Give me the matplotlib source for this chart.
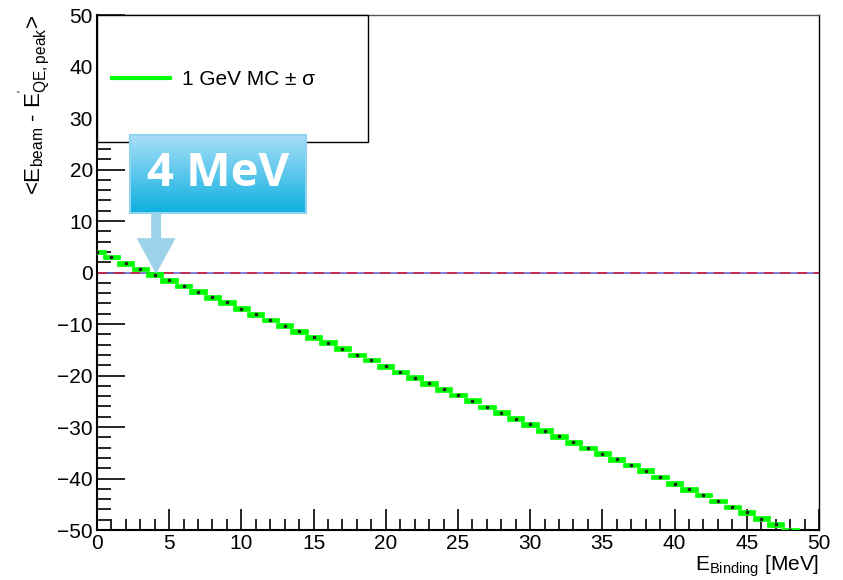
import numpy as np
import matplotlib.pyplot as plt
from matplotlib.patches import Rectangle
from matplotlib.lines import Line2D
from matplotlib.ticker import MultipleLocator

plt.rcParams['font.family'] = ['Liberation Sans', 'DejaVu Sans']
plt.rcParams['mathtext.fontset'] = 'custom'
plt.rcParams['mathtext.rm'] = 'Liberation Sans'
plt.rcParams['mathtext.it'] = 'Liberation Sans:italic'

# binding energy (MeV) and mean peak shift
e_binding = np.arange(0, 49)
shift = [4.0, 3.0, 1.8, 0.7, -0.4, -1.5, -2.6, -3.7, -4.8, -5.8,
         -7.0, -8.1, -9.2, -10.3, -11.4, -12.6, -13.6, -14.8, -16.0, -17.0,
         -18.2, -19.3, -20.4, -21.5, -22.7, -23.8, -24.9, -26.1, -27.2, -28.4,
         -29.5, -30.7, -31.8, -33.0, -34.1, -35.2, -36.3, -37.4, -38.5, -39.7,
         -41.0, -42.1, -43.2, -44.4, -45.5, -46.6, -47.8, -48.9, -50.0]
sigma = 0.45
legend_label = '1 GeV MC ± σ'
callout_text = '4 MeV'
callout_x = 4.1

fig = plt.figure(figsize=(8.43, 5.8), dpi=100)
ax = fig.add_axes([0.115, 0.0862, 0.8565, 0.8879])

shift = np.array(shift)
# green error boxes
ax.bar(e_binding, 2 * sigma, bottom=shift - sigma, width=1.2,
       color='#00ff00', edgecolor='#00ff00', linewidth=0.5, zorder=3)
ax.plot(e_binding, shift, 's', color='#222222', markersize=1.5, zorder=4)

# zero line
ax.axhline(0, color='#6a6ad8', lw=1.2, zorder=2)
ax.axhline(0, color='#d0203a', lw=1.2, ls=(0, (6, 4)), zorder=2)

ax.set_xlim(0, 50)
ax.set_ylim(-50, 50)
ax.xaxis.set_major_locator(MultipleLocator(5))
ax.xaxis.set_minor_locator(MultipleLocator(1))
ax.yaxis.set_major_locator(MultipleLocator(10))
ax.yaxis.set_minor_locator(MultipleLocator(2))
ax.tick_params(which='both', direction='in', top=False, right=False,
               labelsize=15, width=1.2, color='black', pad=3)
ax.tick_params(axis='y', which='major', length=20)
ax.tick_params(axis='y', which='minor', length=10)
ax.tick_params(axis='x', which='major', length=15)
ax.tick_params(axis='x', which='minor', length=8)
for s in ax.spines.values():
    s.set_linewidth(1.0)
ax.spines['left'].set_linewidth(1.5)
ax.spines['bottom'].set_linewidth(1.5)
ax.spines['top'].set_color('#555555')

ax.set_xlabel(r'E$_{\mathrm{Binding}}$ [MeV]', fontsize=15, loc='right', labelpad=0)
ax.set_ylabel(r"<E$_{\mathrm{beam}}$ - E$^{'}_{\mathrm{QE,peak}}$>",
              fontsize=16, loc='top', labelpad=4)

# legend box
ax.add_patch(Rectangle((0, 0.753), 0.3754, 0.247, transform=ax.transAxes,
                       facecolor='white', edgecolor='black', lw=1.0,
                       zorder=5, clip_on=False))
handle = Line2D([], [], color='#00ff00', lw=3)
leg = ax.legend([handle], [legend_label], loc='center left',
                bbox_to_anchor=(0.0, 0.874), frameon=False, fontsize=15,
                handlelength=2.8, handletextpad=0.6, borderaxespad=0.3)
leg.set_zorder(6)

# arrow pointing to the crossing
ax.annotate('', xy=(callout_x, 0), xytext=(callout_x, 12.5),
            arrowprops=dict(arrowstyle='simple,head_length=1.1,head_width=1.2,tail_width=0.28',
                            color='#9dd3e8', mutation_scale=22, shrinkA=0, shrinkB=0),
            zorder=7)

# callout box with gradient
cax = fig.add_axes([0.1542, 0.6328, 0.2088, 0.1344])
grad = np.linspace(0, 1, 100).reshape(-1, 1)
top_c = np.array([0.66, 0.87, 0.97])
bot_c = np.array([0.05, 0.69, 0.88])
img = top_c + grad[:, :, None] * (bot_c - top_c)
img = np.repeat(img, 2, axis=1)
cax.imshow(img, aspect='auto', extent=[0, 1, 0, 1], origin='upper')
cax.set_xlim(0, 1)
cax.set_ylim(0, 1)
cax.set_xticks([])
cax.set_yticks([])
for s in cax.spines.values():
    s.set_color('#8fd3ee')
    s.set_linewidth(1.5)
cax.text(0.5, 0.5, callout_text, color='white', fontsize=34, fontweight='bold',
         family='Open Sans', ha='center', va='center')

fig.savefig('out.png', dpi=100)
